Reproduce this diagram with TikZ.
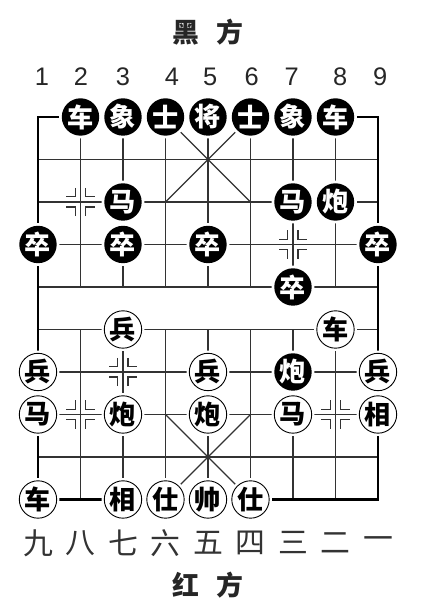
\documentclass[tikz,border=0pt]{standalone}
\usepackage{fontspec}
\newfontfamily\cjk{Noto Sans CJK SC}
\newfontfamily\digitfont{Liberation Sans}

\begin{document}
\begin{tikzpicture}[
    piece/.style = {circle,
        minimum size = 0.88cm,
        inner sep = 0pt,
        font = \cjk\bfseries\fontsize{17.5}{17.5}\selectfont,
        preaction = {draw=white, line width=0.13cm}},
    black piece/.style = {piece, fill=black, text=white},
    red piece/.style = {piece, fill=white, draw=black, line width=0.6pt},
    grid line/.style = {line width=1.1pt, black!80},
    border/.style = {line width=1.9pt},
    mark line/.style = {line width=0.8pt, black!80}]

\useasboundingbox (-0.894,2.753) rectangle (9.035,-11.718);

% Grid
\foreach \r in {1,...,8}
    \draw[grid line] (0,-\r) -- (8,-\r);
\foreach \c in {1,...,7} {
    \draw[grid line] (\c,0) -- (\c,-4);
    \draw[grid line] (\c,-5) -- (\c,-9);
}

% Palaces
\draw[grid line, line width=0.8pt] (3,0) -- (5,-2) (5,0) -- (3,-2);
\draw[grid line, line width=0.8pt] (3,-7) -- (5,-9) (5,-7) -- (3,-9);

% Border
\draw[border] (0,0) rectangle (8,-9);

% Position marks
\foreach \c/\r in {1/2, 6/3, 2/6, 1/7, 7/7}
    \foreach \sx in {-1,1}
        \foreach \sy in {-1,1}
            \draw[mark line] (\c+\sx*0.12,-\r+\sy*0.33) -- (\c+\sx*0.12,-\r+\sy*0.12)
                -- (\c+\sx*0.33,-\r+\sy*0.12);

% Black pieces
\node[black piece] (bche2) at (1,0) {车};
\node[black piece] (bxiang3) at (2,0) {象};
\node[black piece] (bshi4) at (3,0) {士};
\node[black piece] (bjiang) at (4,0) {将};
\node[black piece] (bshi6) at (5,0) {士};
\node[black piece] (bxiang7) at (6,0) {象};
\node[black piece] (bche8) at (7,0) {车};
\node[black piece] (bma3) at (2,-2) {马};
\node[black piece] (bma7) at (6,-2) {马};
\node[black piece] (bpao8) at (7,-2) {炮};
\node[black piece] (bzu1) at (0,-3) {卒};
\node[black piece] (bzu3) at (2,-3) {卒};
\node[black piece] (bzu5) at (4,-3) {卒};
\node[black piece] (bzu9) at (8,-3) {卒};
\node[black piece] (bzu7) at (6,-4) {卒};
\node[black piece] (bpao7) at (6,-6) {炮};

% Red pieces
\node[red piece] (rbing3) at (2,-5) {兵};
\node[red piece] (rche8) at (7,-5) {车};
\node[red piece] (rbing1) at (0,-6) {兵};
\node[red piece] (rbing5) at (4,-6) {兵};
\node[red piece] (rbing9) at (8,-6) {兵};
\node[red piece] (rma1) at (0,-7) {马};
\node[red piece] (rpao3) at (2,-7) {炮};
\node[red piece] (rpao5) at (4,-7) {炮};
\node[red piece] (rma7) at (6,-7) {马};
\node[red piece] (rxiang9) at (8,-7) {相};
\node[red piece] (rche1) at (0,-9) {车};
\node[red piece] (rxiang3) at (2,-9) {相};
\node[red piece] (rshi4) at (3,-9) {仕};
\node[red piece] (rshuai) at (4,-9) {帅};
\node[red piece] (rshi6) at (5,-9) {仕};

% Column numbers
\foreach \x [count=\n] in {0.09,1.01,2.0,3.15,4.05,5.03,5.97,7.11,8.05}
    \node[font=\digitfont\fontsize{17}{17}\selectfont, text=black!85] (num\n) at (\x,0.94) {\n};
\foreach \t [count=\n from 0] in {九,八,七,六,五,四,三,二,一}
    \node[font=\cjk\fontsize{20}{20}\selectfont, text=black!80] (cn\n) at (\n,-10.02) {\t};

% Sides
\node[font=\cjk\bfseries\fontsize{18}{18}\selectfont, text=black!85] (blackside) at (4,2.0) {黑\hspace{0.42cm}方};
\node[font=\cjk\bfseries\fontsize{18}{18}\selectfont, text=black!85] (redside) at (4,-11.01) {红\hspace{0.42cm}方};

\end{tikzpicture}
\end{document}
